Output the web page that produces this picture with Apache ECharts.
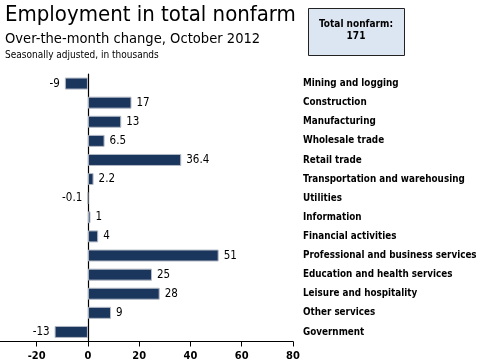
<!DOCTYPE html>
<html><head><meta charset="utf-8">
<script src="https://cdn.jsdelivr.net/npm/echarts@6/dist/echarts.min.js"></script>
<style>html,body{margin:0;padding:0;background:#fff}#c{width:483px;height:364px}</style>
</head><body><div id="c"></div>
<script>
var categories = ["Mining and logging","Construction","Manufacturing","Wholesale trade","Retail trade","Transportation and warehousing","Utilities","Information","Financial activities","Professional and business services","Education and health services","Leisure and hospitality","Other services","Government"];
var values = [-9,17,13,6.5,36.4,2.2,-0.1,1,4,51,25,28,9,-13];
var xTicks = [-20,0,20,40,60,80];
var xMin = -34.3;
var titleText = "Employment in total nonfarm";
var subtitleText = "Over-the-month change, October 2012";
var noteText = "Seasonally adjusted, in thousands";
var boxLabel = "Total nonfarm:";
var boxValue = "171";

var FONT = '"DejaVu Sans Condensed","DejaVu Sans",sans-serif';
var chart = echarts.init(document.getElementById('c'));
var data = values.map(function(v){
  return {value: v, label: {position: v < 0 ? 'left' : 'right'}};
});
chart.setOption({
  animation: false,
  grid: {left: 0, right: 190, top: 74, bottom: 22.5, containLabel: false},
  xAxis: {
    type: 'value', min: xMin, max: xTicks[xTicks.length-1],
    splitLine: {show: false},
    axisLine: {show: true, lineStyle: {color: '#000', width: 1}},
    axisTick: {show: true, length: 5, lineStyle: {color: '#000'}, customValues: xTicks},
    axisLabel: {fontFamily: FONT, fontWeight: 'bold', fontSize: 11, color: '#000', margin: 9, customValues: xTicks}
  },
  yAxis: [{
    type: 'category', data: categories, inverse: true,
    axisLine: {show: true, onZero: true, lineStyle: {color: '#000', width: 1.2}},
    axisTick: {show: false}, axisLabel: {show: false}
  },{
    type: 'category', data: categories, inverse: true, position: 'right',
    axisLine: {show: false}, axisTick: {show: false},
    axisLabel: {fontFamily: FONT, fontWeight: 'bold', fontSize: 9.8, color: '#000', margin: 10, align: 'left'}
  }],
  series: [{
    type: 'bar', data: data, barWidth: 12, yAxisIndex: 0,
    itemStyle: {color: '#1b365d', borderColor: '#b4bac6', borderWidth: 1},
    label: {show: true, fontFamily: FONT, fontSize: 11.5, color: '#000', distance: 5,
      formatter: function(p){ return String(p.value); }}
  }],
  graphic: [
    {type: 'text', left: 5, top: 4, style: {text: titleText, font: '22px ' + FONT, fill: '#000'}},
    {type: 'text', left: 5, top: 32, style: {text: subtitleText, font: '14.6px ' + FONT, fill: '#000'}},
    {type: 'text', left: 5, top: 50, style: {text: noteText, font: '10px ' + FONT, fill: '#000'}},
    {type: 'rect', shape: {x: 308.5, y: 8.5, width: 96, height: 47}, style: {fill: '#dce6f2', stroke: '#222', lineWidth: 1}},
    {type: 'text', x: 356, y: 18, style: {text: boxLabel + '\n' + boxValue, font: 'bold 10px ' + FONT, fill: '#000', align: 'center', lineHeight: 12}}
  ]
});
</script></body></html>
